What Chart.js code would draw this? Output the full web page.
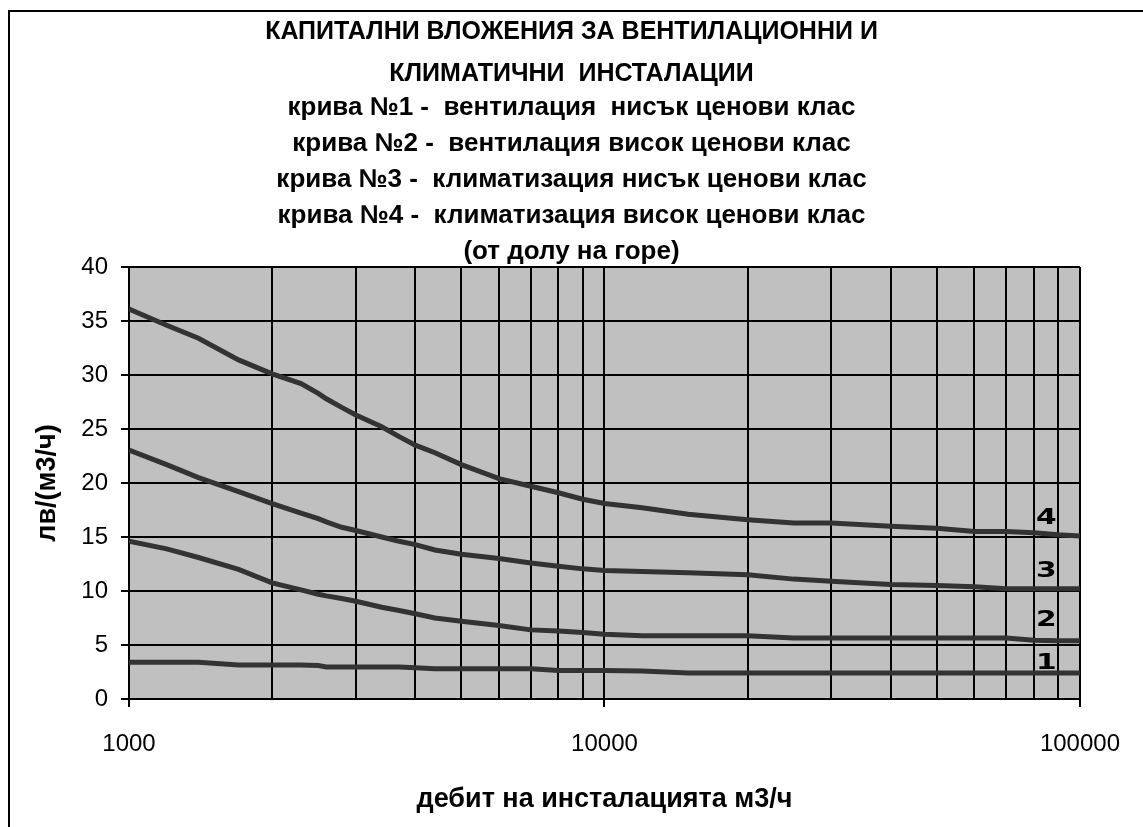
<!DOCTYPE html>
<html>
<head>
<meta charset="utf-8">
<script src="https://cdn.jsdelivr.net/npm/chart.js@4/dist/chart.umd.min.js"></script>
<style>
html, body { margin: 0; padding: 0; background: #fff; overflow: hidden; }
#frame { position: absolute; left: 8px; top: 10px; width: 1150px; height: 830px; border: 2px solid #000; }
#wrap { position: absolute; left: 0; top: 0; width: 1143px; height: 827px; }
</style>
</head>
<body>
<div id="frame"></div>
<div id="wrap"><canvas id="myChart" width="1143" height="827"></canvas></div>
<script>
// дебит м3/ч
var debit = [1000, 1200, 1400, 1700, 2000, 2300, 2500, 2600, 2800, 3000, 3400, 3700, 4000, 4400,
    5000, 6000, 7000, 8000, 9000, 10000, 12000, 15000, 20000, 25000, 30000, 40000,
    50000, 60000, 70000, 80000, 90000, 100000];

// лв/(м3/ч)
var curve1 = [3.4, 3.4, 3.4, 3.15, 3.15, 3.15, 3.1, 2.97, 2.97, 2.97, 2.97, 2.97, 2.9, 2.8,
    2.8, 2.8, 2.8, 2.65, 2.65, 2.65, 2.6, 2.4, 2.4, 2.4, 2.4, 2.4,
    2.4, 2.4, 2.4, 2.4, 2.4, 2.4];
var curve2 = [14.6, 13.9, 13.1, 12.0, 10.75, 10.1, 9.7, 9.55, 9.3, 9.05, 8.5, 8.2, 7.9, 7.5,
    7.2, 6.8, 6.4, 6.3, 6.15, 6.0, 5.85, 5.85, 5.85, 5.65, 5.65, 5.65,
    5.65, 5.65, 5.65, 5.45, 5.4, 5.4];
var curve3 = [23.05, 21.7, 20.5, 19.2, 18.1, 17.2, 16.7, 16.4, 15.9, 15.6, 15.0, 14.6, 14.3, 13.8,
    13.4, 13.0, 12.6, 12.3, 12.05, 11.9, 11.8, 11.7, 11.5, 11.1, 10.9, 10.6,
    10.5, 10.4, 10.2, 10.2, 10.2, 10.2];
var curve4 = [36.1, 34.6, 33.4, 31.4, 30.1, 29.2, 28.3, 27.8, 27.0, 26.3, 25.2, 24.3, 23.5, 22.8,
    21.7, 20.4, 19.7, 19.1, 18.5, 18.1, 17.7, 17.1, 16.6, 16.3, 16.3, 16.0,
    15.8, 15.5, 15.5, 15.4, 15.2, 15.1];

var xGridValues = [1000, 2000, 3000, 4000, 5000, 6000, 7000, 8000, 9000,
    10000, 20000, 30000, 40000, 50000, 60000, 70000, 80000, 90000, 100000];
var xTickLabels = [1000, 10000, 100000];

var curveLabels = ['1', '2', '3', '4'];
var curveLabelX = 85000;
var curveLabelY = [3.3, 7.3, 11.85, 16.7];

var titleLines = [
    'КАПИТАЛНИ ВЛОЖЕНИЯ ЗА ВЕНТИЛАЦИОННИ И',
    'КЛИМАТИЧНИ  ИНСТАЛАЦИИ',
    'крива №1 -  вентилация  нисък ценови клас',
    'крива №2 -  вентилация висок ценови клас',
    'крива №3 -  климатизация нисък ценови клас',
    'крива №4 -  климатизация висок ценови клас',
    '(от долу на горе)'
];
var xTitle = 'дебит на инсталацията м3/ч';
var yTitle = 'лв/(м3/ч)';

var fontName = "'Liberation Sans', Arial, sans-serif";

function points(values) {
    return debit.map(function (d, i) { return {x: d, y: values[i]}; });
}

var plotBackground = {
    id: 'plotBackground',
    beforeDraw: function (chart) {
        var a = chart.chartArea;
        var ctx = chart.ctx;
        ctx.save();
        ctx.fillStyle = '#c0c0c0';
        ctx.fillRect(a.left, a.top, a.right - a.left, a.bottom - a.top);
        ctx.restore();
    }
};

var textLayer = {
    id: 'textLayer',
    afterDraw: function (chart) {
        var ctx = chart.ctx;
        var cx = chart.width / 2;
        ctx.save();
        ctx.fillStyle = '#000';
        ctx.textAlign = 'center';
        ctx.textBaseline = 'alphabetic';
        titleLines.forEach(function (t, i) {
            var y;
            if (i < 2) {
                ctx.font = 'bold 25px ' + fontName;
                y = 39 + i * 42;
            } else {
                ctx.font = 'bold 26px ' + fontName;
                y = 115 + (i - 2) * 36;
            }
            ctx.fillText(t, cx, y);
        });

        // номера на кривите
        var sx = chart.scales.x, sy = chart.scales.y;
        ctx.textBaseline = 'middle';
        ctx.font = "bold 22px 'DejaVu Sans', sans-serif";
        curveLabels.forEach(function (t, i) {
            ctx.save();
            ctx.translate(sx.getPixelForValue(curveLabelX), sy.getPixelForValue(curveLabelY[i]));
            ctx.scale(1.35, 1);
            ctx.fillText(t, 0, 0);
            ctx.restore();
        });
        ctx.restore();
    }
};

function line(values) {
    return {
        data: points(values),
        borderColor: '#333333',
        borderWidth: 5,
        pointRadius: 0,
        tension: 0,
        fill: false
    };
}

var ctx = document.getElementById('myChart').getContext('2d');
var myChart = new Chart(ctx, {
    type: 'line',
    data: {
        datasets: [line(curve1), line(curve2), line(curve3), line(curve4)]
    },
    options: {
        responsive: false,
        animation: false,
        layout: {padding: {top: 267, right: 44, bottom: 0, left: 0}},
        plugins: {
            legend: {display: false},
            tooltip: {enabled: false}
        },
        scales: {
            x: {
                type: 'logarithmic',
                min: 1000,
                max: 100000,
                afterFit: function (s) { s.height = 128; },
                afterBuildTicks: function (s) {
                    s.ticks = xGridValues.map(function (v) { return {value: v}; });
                },
                ticks: {
                    autoSkip: false,
                    maxRotation: 0,
                    padding: 23,
                    color: '#000',
                    font: {family: fontName, size: 24},
                    callback: function (v) {
                        return xTickLabels.indexOf(v) >= 0 ? String(v) : '';
                    }
                },
                grid: {
                    color: '#000',
                    lineWidth: 2,
                    tickLength: 8,
                    tickColor: function (c) {
                        return c.tick && xTickLabels.indexOf(c.tick.value) >= 0 ? '#000' : 'rgba(0,0,0,0)';
                    }
                },
                border: {color: '#000', width: 2},
                title: {
                    display: true,
                    text: xTitle,
                    color: '#000',
                    font: {family: fontName, size: 27, weight: 'bold'},
                    padding: {top: 0, bottom: 11}
                }
            },
            y: {
                min: 0,
                max: 40,
                afterFit: function (s) { s.width = 129; },
                ticks: {
                    stepSize: 5,
                    padding: 13,
                    color: '#000',
                    font: {family: fontName, size: 24}
                },
                grid: {color: '#000', lineWidth: 2, tickLength: 8, tickColor: '#000'},
                border: {color: '#000', width: 2},
                title: {
                    display: true,
                    text: yTitle,
                    color: '#000',
                    font: {family: fontName, size: 27, weight: 'bold'},
                    padding: {top: 31, bottom: 0}
                }
            }
        }
    },
    plugins: [plotBackground, textLayer]
});
</script>
</body>
</html>
